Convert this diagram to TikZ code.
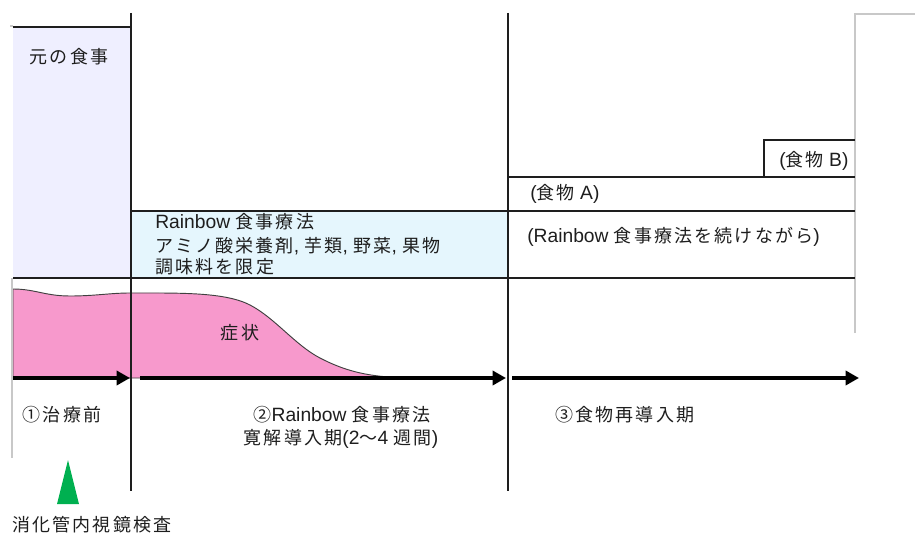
\documentclass[tikz,border=0pt]{standalone}
\usepackage{fontspec}
\setmainfont{Noto Sans CJK JP}[LetterSpace=12]
\newfontfamily\latf{Liberation Sans}[Scale=1.07]
\newcommand\lt[1]{{\latf #1}}
\usetikzlibrary{arrows.meta}
\definecolor{lav}{RGB}{239,239,255}
\definecolor{lblue}{RGB}{229,246,253}
\definecolor{pinkf}{RGB}{247,153,204}
\definecolor{gline}{RGB}{200,200,200}
\definecolor{tri}{RGB}{0,176,80}
\definecolor{ink}{RGB}{30,30,30}
\tikzset{
  grid/.style={draw=ink,line width=1.5pt},
  gridthick/.style={draw=ink,line width=2pt},
  faint/.style={draw=gline,line width=0.8pt},
  lbl/.style={inner sep=0pt,font=\fontsize{13.5}{16}\selectfont,text=ink},
  timearrow/.style={draw=black,line width=3pt,-{Triangle[length=10pt,width=10.5pt]}}
}
\begin{document}
\begin{tikzpicture}[x=0.75pt,y=-0.75pt]
\useasboundingbox (0,0) rectangle (915,535);
% fills
\fill[lav] (13,27) rectangle (131,278);
\fill[lblue] (131,211) rectangle (508,278);
\fill[pinkf,draw=black!75,line width=0.7pt]
  (13,289) .. controls (35,289) and (45,296) .. (70,296)
  .. controls (95,296) and (110,293) .. (130,293)
  .. controls (180,293) and (225,292) .. (250,305)
  .. controls (275,318) and (295,345) .. (320,358)
  .. controls (345,371) and (365,375) .. (388,377)
  -- (388,378) -- (13,378) -- cycle;
% faint frame lines
\draw[faint] (855,333) -- (855,14) -- (915,14);
\draw[faint] (12,278) -- (12,458);
\draw[faint] (10,26) -- (13,26);
% grid lines
\draw[grid] (13,27) -- (131,27);
\draw[grid] (131,13) -- (131,491);
\draw[grid] (508,13) -- (508,491);
\draw[grid] (13,278) -- (855,278);
\draw[gridthick] (131,211) -- (855,211);
\draw[gridthick] (508,177) -- (855,177);
\draw[gridthick] (764,177) -- (764,140) -- (855,140);
% arrows
\coordinate (a1s) at (13,378);  \coordinate (a1e) at (130,378);
\coordinate (a2s) at (140,378); \coordinate (a2e) at (506,378);
\coordinate (a3s) at (512,378); \coordinate (a3e) at (859,378);
\draw[timearrow] (a1s) -- (a1e);
\draw[timearrow] (a2s) -- (a2e);
\draw[timearrow] (a3s) -- (a3e);
% green triangle
\fill[tri] (68,460) -- (79,504) -- (57,504) -- cycle;
% labels
\node[lbl] (orig) at (69,57) {元の食事};
\node[lbl,anchor=west] (r1) at (155,222) {\lt{Rainbow }食事療法};
\node[lbl,anchor=west] (r2) at (155,246) {アミノ酸栄養剤\lt{, }芋類\lt{, }野菜\lt{, }果物};
\node[lbl,anchor=west] (r3) at (155,267) {調味料を限定};
\node[lbl,anchor=west] (fa) at (530,194) {\lt{(}食物\lt{ A)}};
\node[lbl,anchor=west] (fb) at (779,161) {\lt{(}食物\lt{ B)}};
\node[lbl,anchor=west] (cont) at (527,237) {\lt{(Rainbow }食事療法を続けながら\lt{)}};
\node[lbl] (sym) at (240,333) {症状};
\node[lbl] (p1) at (62,415) {①治療前};
\node[lbl] (p2a) at (342,415) {②\lt{Rainbow }食事療法};
\node[lbl] (p2b) at (341,439) {寛解導入期\lt{(2}〜\lt{4 }週間\lt{)}};
\node[lbl,anchor=west] (p3) at (555,415) {③食物再導入期};
\node[lbl,anchor=west] (endo) at (12,525) {消化管内視鏡検査};
\end{tikzpicture}
\end{document}
